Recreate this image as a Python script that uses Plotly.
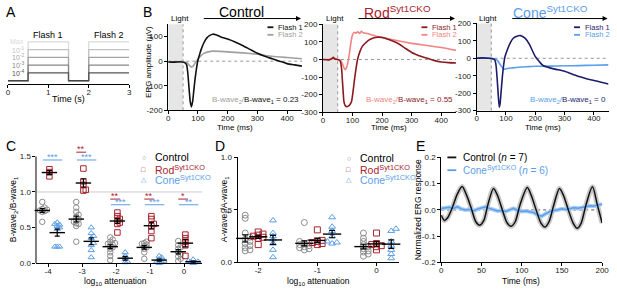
import math
import plotly.graph_objects as go

W, H = 617, 291
FONT = "Arial, 'Liberation Sans', Helvetica, sans-serif"

# ---------------- data ----------------
# Panel A: stimulus protocol
stim_labels = ["Max", "10<sup>-1</sup>", "10<sup>-2</sup>", "10<sup>-3</sup>", "10<sup>-4</sup>"]
stim_levels = [5, 4, 3, 2, 1]
stim_t = [0, 0.5, 0.5, 1.5, 1.5, 2, 2, 3]
stim_on = [0, 0, 1, 1, 0, 0, 1, 1]
flash_names = ["Flash 1", "Flash 2"]
flash_centers = [1.0, 2.5]

# Panel B: ERG traces (time ms, amplitude uV)
ctrl_t1 = [0, 20, 40, 55, 62, 66, 70, 74, 78, 82, 86, 90, 95, 100, 105, 110, 120, 130, 140, 150, 160, 175, 200, 225, 250, 275, 300, 325, 350, 375, 400, 425, 450]
ctrl_f1 = [-3, -4, -2, -6, -15, -50, -110, -165, -186, -165, -120, -75, -30, 5, 25, 45, 75, 95, 105, 110, 108, 100, 90, 78, 64, 48, 32, 20, 10, 0, -10, -15, -20]
ctrl_t2 = [0, 20, 40, 55, 65, 72, 78, 85, 92, 100, 110, 120, 135, 150, 175, 200, 250, 300, 350, 400, 450]
ctrl_f2 = [-2, -3, -2, -3, -8, -18, -24, -18, -5, 8, 22, 32, 38, 41, 40, 38, 34, 28, 20, 15, 10]

rod_t1 = [0, 20, 30, 35, 40, 50, 58, 63, 67, 71, 75, 80, 86, 92, 97, 102, 107, 112, 117, 125, 133, 142, 155, 170, 185, 200, 225, 250, 275, 300, 325, 350, 375, 400, 425, 450]
rod_f1 = [0, -2, 5, 12, 3, 0, -8, -50, -150, -240, -262, -268, -265, -255, -237, -180, -110, -50, 0, 45, 75, 91, 110, 122, 127, 125, 112, 95, 68, 40, 22, 8, -5, -14, -18, -20]
rod_t2 = [0, 20, 35, 50, 60, 66, 72, 76, 80, 85, 90, 95, 100, 106, 112, 118, 124, 130, 136, 142, 150, 165, 180, 200, 250, 300, 350, 400, 450]
rod_f2 = [0, 0, 8, 0, -5, -25, -50, -58, -45, -10, 40, 100, 140, 155, 150, 158, 148, 160, 152, 150, 148, 140, 132, 126, 108, 92, 80, 68, 52]

cone_t1 = [0, 20, 40, 55, 62, 66, 70, 74, 77, 80, 84, 88, 92, 96, 105, 115, 125, 135, 150, 165, 180, 200, 225, 250, 275, 300, 325, 350, 375, 400, 425, 450]
cone_f1 = [0, 2, 0, -3, -10, -40, -120, -220, -280, -260, -180, -100, -40, 5, 50, 90, 115, 125, 130, 115, 80, 10, -40, -55, -65, -75, -90, -105, -117, -127, -137, -147]
cone_t2 = [0, 20, 40, 55, 65, 72, 78, 84, 90, 95, 100, 110, 125, 150, 175, 200, 250, 300, 350, 400, 450]
cone_f2 = [0, 2, 0, -2, -5, -15, -30, -45, -58, -63, -60, -57, -55, -50, -48, -46, -45, -43, -42, -40, -38]

bwave_ratio = ["0.23", "0.55", "0"]
light_end_ms = 50

# Panel C: B-wave2/B-wave1
c_atten = [-4, -3, -2, -1, 0]
c_ctrl = [[0.86, 0.78, 0.76, 0.75, 0.74, 0.73, 0.72, 0.58],
          [0.86, 0.78, 0.72, 0.68, 0.65, 0.62, 0.60, 0.58, 0.56, 0.55, 0.52, 0.30],
          [0.36, 0.33, 0.30, 0.28, 0.27, 0.26, 0.25, 0.22, 0.20, 0.15, 0.10, 0.04],
          [0.30, 0.28, 0.27, 0.26, 0.24, 0.22, 0.20, 0.15, 0.06],
          [0.31, 0.25, 0.22, 0.20, 0.15, 0.12, 0.09, 0.06, 0.03]]
c_rod = [[1.32, 1.28, 1.22],
         [1.33, 1.15, 1.10, 1.03, 1.02],
         [0.71, 0.66, 0.62, 0.60, 0.57, 0.55, 0.43],
         [0.66, 0.62, 0.55, 0.52, 0.45, 0.35],
         [0.40, 0.35, 0.30, 0.25, 0.10]]
c_cone = [[0.57, 0.55, 0.54, 0.52, 0.50, 0.48, 0.23, 0.23, 0.23],
          [0.50, 0.42, 0.38, 0.35, 0.28, 0.25, 0.18, 0.08],
          [0.15, 0.10, 0.06, 0.02, 0.01],
          [0.10, 0.08, 0.05, 0.03, 0.02, 0.01, 0.00],
          [0.05, 0.03, 0.02, 0.01, 0.01, 0.00]]
sig_atten = [-4, -3, -3, -2, -2, -1, -1, 0, 0]
sig_group = ["cone", "rod", "cone", "rod", "cone", "rod", "cone", "rod", "cone"]
sig_text = ["***", "**", "***", "**", "***", "**", "***", "*", "**"]
sig_y = [1.45, 1.56, 1.45, 0.90, 0.82, 0.90, 0.82, 0.90, 0.82]

# Panel D: A-wave2/A-wave1
d_atten = [-2, -1, 0]
d_ctrl = [[0.45, 0.42, 0.28, 0.24, 0.22, 0.20, 0.18, 0.16, 0.14, 0.12, 0.11],
          [0.38, 0.20, 0.19, 0.18, 0.17, 0.16, 0.15, 0.14, 0.13, 0.12],
          [0.28, 0.23, 0.20, 0.17, 0.15, 0.13, 0.11, 0.10, 0.08, 0.06]]
d_rod = [[0.29, 0.27, 0.26, 0.25, 0.24, 0.23, 0.17],
         [0.31, 0.21, 0.20, 0.19, 0.18, 0.17],
         [0.28, 0.18, 0.17, 0.16, 0.15, 0.12]]
d_cone = [[0.40, 0.28, 0.25, 0.22, 0.18, 0.12, 0.05],
          [0.43, 0.34, 0.30, 0.25, 0.20, 0.19, 0.18],
          [0.32, 0.30, 0.20, 0.16, 0.12, 0.08, 0.04]]

# Panel E: flicker responses
e_t_ctrl = [0, 4, 8, 14, 20, 26, 31, 37, 43, 48, 53, 58, 65, 70, 76, 82, 87, 92, 98, 107, 112, 118, 124, 129, 134, 140, 147, 152, 158, 164, 169, 174, 180, 188, 194, 200]
e_ctrl = [-0.02, -0.04, -0.03, 0.01, 0.06, 0.089, 0.06, 0.01, -0.045, -0.058, -0.04, 0.02, 0.082, 0.055, 0.0, -0.05, -0.062, -0.045, 0.02, 0.085, 0.055, 0.0, -0.05, -0.065, -0.045, 0.02, 0.082, 0.055, 0.0, -0.05, -0.07, -0.05, 0.02, 0.088, 0.02, -0.05]
e_t_cone = [0, 5, 10, 15, 20, 25, 30, 35, 40, 45, 50, 55, 60, 65, 70, 75, 80, 85, 90, 95, 100, 105, 110, 115, 120, 125, 130, 135, 140, 145, 150, 155, 160, 165, 170, 175, 180, 185, 190, 195, 200]
e_cone = [0.005, 0.008, 0.01, 0.006, 0.012, 0.004, 0.0, 0.002, -0.004, 0.003, 0.008, 0.012, 0.006, 0.0, -0.004, -0.002, -0.006, 0.0, 0.006, -0.002, -0.006, -0.004, -0.008, -0.01, -0.02, -0.024, -0.014, -0.006, -0.002, 0.0, 0.004, 0.002, 0.006, 0.008, 0.006, 0.01, 0.012, 0.016, 0.014, 0.02, 0.022]
e_n = [7, 6]

# ---------------- styles ----------------
stim_colors = ["#dadada", "#c2c2c2", "#a5a5a5", "#888888", "#555555"]
COL_CTRL = "#8c8c8c"
COL_ROD = "#a8232d"
COL_CONE = "#5b9ee9"
B_COLS = [("#111111", "#a0a0a0"), ("#8b1a1f", "#f28383"), ("#1c1c6b", "#5b9ee9")]


def fx(px):
    return px / W


def fy(py):
    return 1 - py / H


def xaxis(p0, p1, rng, tickvals, ticktext, anchor, showline=True):
    return dict(domain=[fx(p0), fx(p1)], range=rng, tickvals=tickvals, ticktext=ticktext,
                anchor=anchor, showline=showline, linecolor="black", linewidth=1,
                ticks="outside", ticklen=3, tickwidth=1, tickcolor="black",
                ticklabelstandoff=-3,
                tickfont=dict(size=8, family=FONT, color="#222"), showgrid=False,
                zeroline=False, fixedrange=True)


def yaxis(top, bottom, rng, tickvals, ticktext, anchor, showline=True):
    return dict(domain=[fy(bottom), fy(top)], range=rng, tickvals=tickvals, ticktext=ticktext,
                anchor=anchor, showline=showline, linecolor="black", linewidth=1,
                ticks="outside", ticklen=3, tickwidth=1, tickcolor="black",
                tickfont=dict(size=8, family=FONT, color="#222"), showgrid=False,
                zeroline=False, fixedrange=True)


annotations = []
shapes = []


def T(px, py, text, size=8, color="black", xa="center", ya="middle", angle=0):
    annotations.append(dict(x=fx(px), y=fy(py), xref="paper", yref="paper", text=text,
                            showarrow=False, xanchor=xa, yanchor=ya, textangle=angle,
                            font=dict(size=size, color=color, family=FONT)))


def pline(x0, y0, x1, y1, color, width=1.5, dash=None):
    shapes.append(dict(type="line", xref="paper", yref="paper", x0=fx(x0), y0=fy(y0),
                       x1=fx(x1), y1=fy(y1), line=dict(color=color, width=width, dash=dash)))


def swarm(values, center, step, dy):
    placed = []
    xs = [0.0] * len(values)
    order = sorted(range(len(values)), key=lambda i: values[i])
    for i in order:
        y = values[i]
        x = center
        for c in [0, 1, -1, 2, -2, 3, -3, 4, -4]:
            x = center + c * step
            if all(abs(x - px) > step * 0.5 or abs(y - py) > dy for px, py in placed):
                break
        placed.append((x, y))
        xs[i] = x
    return xs


def mean_sem(v):
    n = len(v)
    m = sum(v) / n
    sd = math.sqrt(sum((a - m) ** 2 for a in v) / (n - 1))
    return m, sd / math.sqrt(n)


fig = go.Figure()

# ---------------- Panel A ----------------
A_X0, A_X1 = 6, 129
for lab, lev, col in zip(stim_labels, stim_levels, stim_colors):
    fig.add_trace(go.Scatter(x=stim_t, y=[v * lev for v in stim_on], mode="lines",
                             line=dict(color=col, width=1.2), xaxis="x", yaxis="y",
                             showlegend=False, hoverinfo="skip"))
fig.add_trace(go.Scatter(x=[0, 0.5, None, 1.5, 2], y=[0, 0, None, 0, 0], mode="lines",
                         line=dict(color="#444444", width=1.2), xaxis="x", yaxis="y",
                         showlegend=False, hoverinfo="skip"))
for lab, lev, col in zip(stim_labels, stim_levels, stim_colors):
    annotations.append(dict(x=0.46, y=lev, xref="x", yref="y", text=lab, showarrow=False,
                            xanchor="right", yanchor="middle",
                            font=dict(size=7, color=col, family=FONT)))
for name, c in zip(flash_names, flash_centers):
    T(A_X0 + (A_X1 - A_X0) * c / 3, 32, name, size=9)

# ---------------- Panel B ----------------
b_series = [(ctrl_t1, ctrl_f1, ctrl_t2, ctrl_f2), (rod_t1, rod_f1, rod_t2, rod_f2),
            (cone_t1, cone_f1, cone_t2, cone_f2)]
for k, (t1, f1, t2, f2) in enumerate(b_series):
    xa_, ya_ = "x%d" % (k + 2), "y%d" % (k + 2)
    c1, c2 = B_COLS[k]
    shapes.append(dict(type="rect", xref=xa_, yref=ya_ + " domain", x0=0, x1=light_end_ms,
                       y0=0, y1=1, fillcolor="#e6e6e6", line=dict(width=0), layer="below"))
    shapes.append(dict(type="line", xref=xa_, yref=ya_ + " domain", x0=light_end_ms,
                       x1=light_end_ms, y0=0, y1=1,
                       line=dict(color="#999999", width=1, dash="dot"), layer="below"))
    shapes.append(dict(type="line", xref=xa_ + " domain", yref=ya_, x0=0, x1=1, y0=0, y1=0,
                       line=dict(color="#999999", width=1, dash="dot"), layer="below"))
    fig.add_trace(go.Scatter(x=t2, y=f2, mode="lines", line=dict(color=c2, width=1.6, shape="spline", smoothing=0.4),
                             xaxis=xa_, yaxis=ya_, showlegend=False, hoverinfo="skip"))
    fig.add_trace(go.Scatter(x=t1, y=f1, mode="lines", line=dict(color=c1, width=1.6, shape="spline", smoothing=0.4),
                             xaxis=xa_, yaxis=ya_, showlegend=False, hoverinfo="skip"))

# ---------------- Panel C ----------------
C_OFF = [-0.17, 0.04, 0.27]
groups_c = [(c_ctrl, COL_CTRL, "circle-open"), (c_rod, COL_ROD, "square-open"),
            (c_cone, COL_CONE, "triangle-up-open")]
for g, (data, col, sym) in enumerate(groups_c):
    xs, ys, mx, my, me = [], [], [], [], []
    for a, vals in zip(c_atten, data):
        xs += swarm(vals, a + C_OFF[g], 0.07, 0.035)
        ys += vals
        m, s = mean_sem(vals)
        mx.append(a + C_OFF[g]); my.append(m); me.append(s)
    fig.add_trace(go.Scatter(x=xs, y=ys, mode="markers", xaxis="x5", yaxis="y5",
                             marker=dict(symbol=sym, size=5.5, color=col, line=dict(width=1, color=col)),
                             showlegend=False, hoverinfo="skip", cliponaxis=False))
    fig.add_trace(go.Scatter(x=mx, y=my, mode="markers", xaxis="x5", yaxis="y5",
                             marker=dict(symbol="line-ew-open", size=11, color="black", line=dict(width=1.4, color="black")),
                             error_y=dict(type="data", array=me, color="black", thickness=1.2, width=2.5),
                             showlegend=False, hoverinfo="skip", cliponaxis=False))
shapes.append(dict(type="line", xref="x5 domain", yref="y5", x0=0, x1=1, y0=1.0, y1=1.0,
                   line=dict(color="#cccccc", width=1), layer="below"))
for a, grp, txt, yv in zip(sig_atten, sig_group, sig_text, sig_y):
    col = COL_ROD if grp == "rod" else COL_CONE
    span = (-0.17, 0.12) if grp == "rod" else (-0.15, 0.42)
    fig.add_trace(go.Scatter(x=[a + span[0], a + span[1]], y=[yv, yv], mode="lines",
                             line=dict(color=col, width=1), xaxis="x5", yaxis="y5",
                             showlegend=False, hoverinfo="skip"))
    annotations.append(dict(x=a + (span[0] + span[1]) / 2, y=yv, xref="x5", yref="y5", text=txt,
                            showarrow=False, xanchor="center", yanchor="bottom", yshift=-4,
                            font=dict(size=9, color=col, family=FONT)))

# ---------------- Panel D ----------------
D_OFF = [-0.22, 0.0, 0.25]
groups_d = [(d_ctrl, COL_CTRL, "circle-open"), (d_rod, COL_ROD, "square-open"),
            (d_cone, COL_CONE, "triangle-up-open")]
for g, (data, col, sym) in enumerate(groups_d):
    xs, ys, mx, my, me = [], [], [], [], []
    for a, vals in zip(d_atten, data):
        xs += swarm(vals, a + D_OFF[g], 0.08, 0.025)
        ys += vals
        m, s = mean_sem(vals)
        mx.append(a + D_OFF[g]); my.append(m); me.append(s)
    fig.add_trace(go.Scatter(x=xs, y=ys, mode="markers", xaxis="x6", yaxis="y6",
                             marker=dict(symbol=sym, size=6, color=col, line=dict(width=1, color=col)),
                             showlegend=False, hoverinfo="skip", cliponaxis=False))
    fig.add_trace(go.Scatter(x=mx, y=my, mode="markers", xaxis="x6", yaxis="y6",
                             marker=dict(symbol="line-ew-open", size=13, color="black", line=dict(width=1.4, color="black")),
                             error_y=dict(type="data", array=me, color="black", thickness=1.2, width=3),
                             showlegend=False, hoverinfo="skip", cliponaxis=False))

# ---------------- Panel E ----------------
shapes.append(dict(type="line", xref="x7 domain", yref="y7", x0=0, x1=1, y0=0, y1=0,
                   line=dict(color="#555555", width=1, dash="dot"), layer="below"))
fig.add_trace(go.Scatter(x=e_t_ctrl, y=e_ctrl, mode="lines", xaxis="x7", yaxis="y7",
                         line=dict(color="#c8c8c8", width=5, shape="spline", smoothing=0.8),
                         showlegend=False, hoverinfo="skip"))
fig.add_trace(go.Scatter(x=e_t_cone, y=e_cone, mode="lines", xaxis="x7", yaxis="y7",
                         line=dict(color="#a9cdf5", width=4), showlegend=False, hoverinfo="skip"))
fig.add_trace(go.Scatter(x=e_t_cone, y=e_cone, mode="lines", xaxis="x7", yaxis="y7",
                         line=dict(color=COL_CONE, width=1.5), showlegend=False, hoverinfo="skip"))
fig.add_trace(go.Scatter(x=e_t_ctrl, y=e_ctrl, mode="lines", xaxis="x7", yaxis="y7",
                         line=dict(color="#111111", width=1.5, shape="spline", smoothing=0.8),
                         showlegend=False, hoverinfo="skip"))

# ---------------- axes ----------------
B_X = [(168.7, 304.4), (325.7, 460.7), (481.7, 615.5)]
layout_axes = dict(
    xaxis=xaxis(A_X0, A_X1, [0, 3], [0, 1, 2, 3], ["0", "1", "2", "3"], "y"),
    yaxis=dict(domain=[fy(83), fy(35)], range=[-0.5, 5.5], visible=False, anchor="x", fixedrange=True),
    xaxis2=xaxis(*B_X[0], [0, 450], [0, 100, 200, 300, 400], None, "y2"),
    yaxis2=yaxis(21, 109.7, [-200, 150], [-200, -100, 0, 100], ["-200", "-100", "0", "100"], "x2"),
    xaxis3=xaxis(*B_X[1], [0, 450], [0, 100, 200, 300, 400], None, "y3"),
    yaxis3=yaxis(21, 111.7, [-300, 200], [-300, -200, -100, 0, 100, 200], ["-300", "-200", "-100", "0", "100", "200"], "x3"),
    xaxis4=xaxis(*B_X[2], [0, 450], [0, 100, 200, 300, 400], None, "y4"),
    yaxis4=yaxis(20, 110, [-300, 200], [-300, -200, -100, 0, 100, 200], ["-300", "-200", "-100", "0", "100", "200"], "x4"),
    xaxis5=xaxis(35, 203, [-4.34, 0.53], c_atten, ["-4", "-3", "-2", "-1", "0"], "y5"),
    yaxis5=yaxis(267.3 - 1.65 * 73.33, 267.3, [0, 1.65], [0, 0.5, 1.0, 1.5], ["0.0", "0.5", "1.0", "1.5"], "x5", showline=False),
    xaxis6=xaxis(239, 403, [-2.35, 0.383], d_atten, ["-2", "-1", "0"], "y6"),
    yaxis6=yaxis(158.3, 266.7, [0, 1.0], [0, 0.5, 1.0], ["0.0", "0.5", "1.0"], "x6"),
    xaxis7=xaxis(445.7, 609, [0, 200], [0, 50, 100, 150, 200], None, "y7"),
    yaxis7=yaxis(158.3, 266.7, [-0.2, 0.2], [-0.2, -0.1, 0, 0.1, 0.2], ["-0.2", "-0.1", "0.0", "0.1", "0.2"], "x7"),
)
# C y spine up to 1.5 only
shapes.append(dict(type="line", xref="x5 domain", yref="y5 domain", x0=-0.003, x1=-0.003,
                   y0=0, y1=1.5 / 1.65, line=dict(color="black", width=1)))

# ---------------- texts ----------------
for letter, px, py in [("A", 2, 8), ("B", 141, 8), ("C", 2, 147), ("D", 214, 147), ("E", 418, 147)]:
    T(px, py, letter, size=14, xa="left")

T(67, 98, "Time (s)", size=9)

b_titles = ["Control", "Rod<sup>Syt1CKO</sup>", "Cone<sup>Syt1CKO</sup>"]
b_title_cols = ["black", COL_ROD, COL_CONE]
for k, (x0, x1) in enumerate(B_X):
    c1, c2 = B_COLS[k]
    cx = (x0 + x1) / 2 + (6 if k == 0 else 8)
    T(cx, 8, b_titles[k], size=14, color=b_title_cols[k])
    T(x0 + 12, 15, "Light", size=8, xa="center")
    annotations.append(dict(x=fx(x1 - 1), y=fy(15), xref="paper", yref="paper", text="",
                            showarrow=True, ax=-(x1 - x0 - 37), ay=0, axref="pixel", ayref="pixel",
                            arrowhead=2, arrowsize=1, arrowwidth=1, arrowcolor="black"))
    T((x0 + x1) / 2, 127, "Time (ms)", size=8)
    # legend
    for j, (nm, col) in enumerate(zip(flash_names, (c1, c2))):
        ly = 24 + j * 7.8
        pline(x1 - 35, ly, x1 - 29, ly, col, width=1.8)
        T(x1 - 26, ly, nm, size=7.5, color=col, xa="left")
    T(x1 - 1, 99, '<span style="color:%s">B-wave<sub>2</sub>/</span>B-wave<sub>1</sub> = %s' % (c2, bwave_ratio[k]),
      size=8, color=c1, xa="right")

T(148, 60, "ERG amplitude (μV)", size=8, angle=-90)

# C/D legends
for lx, tx, rows in [(144, 153, (158.3, 170.7, 181)), (352, 361, (159, 171, 181))]:
    for (sym, col, lab), ry in zip([("○", COL_CTRL, "Control"), ("□", COL_ROD, "Rod<sup>Syt1CKO</sup>"),
                                    ("△", COL_CONE, "Cone<sup>Syt1CKO</sup>")], rows):
        T(lx, ry, sym, size=7, color=col)
        T(tx, ry, lab, size=10.5, color=("black" if lab == "Control" else col), xa="left")

T(12, 212, "B-wave<sub>2</sub>/B-wave<sub>1</sub>", size=8.5, angle=-90)
T(115, 286, "log<sub>10</sub> attenuation", size=8.5)
T(226, 212, "A-wave<sub>2</sub>/A-wave<sub>1</sub>", size=8.5, angle=-90)
T(321, 286, "log<sub>10</sub> attenuation", size=8.5)

# E legend and labels
pline(452, 158.3, 461, 158.3, "#111111", width=1.8)
T(466, 158.3, "Control (<i>n</i> = %d)" % e_n[0], size=10, xa="left")
pline(452, 171.5, 461, 171.5, COL_CONE, width=1.8)
T(466, 171.5, "Cone<sup>Syt1CKO</sup> (<i>n</i> = %d)" % e_n[1], size=10, color=COL_CONE, xa="left")
T(423, 212, "Normalized ERG response", size=8.5, angle=-90)
T(527, 286, "Time (ms)", size=8.5)

fig.update_layout(width=W, height=H, margin=dict(l=0, r=0, t=0, b=0), paper_bgcolor="white",
                  plot_bgcolor="rgba(0,0,0,0)", showlegend=False, annotations=annotations,
                  shapes=shapes, font=dict(family=FONT), **layout_axes)

fig.write_html("out.html", config={"displayModeBar": False, "staticPlot": True},
               post_script="document.body.style.margin='0';document.body.style.overflow='hidden';")
